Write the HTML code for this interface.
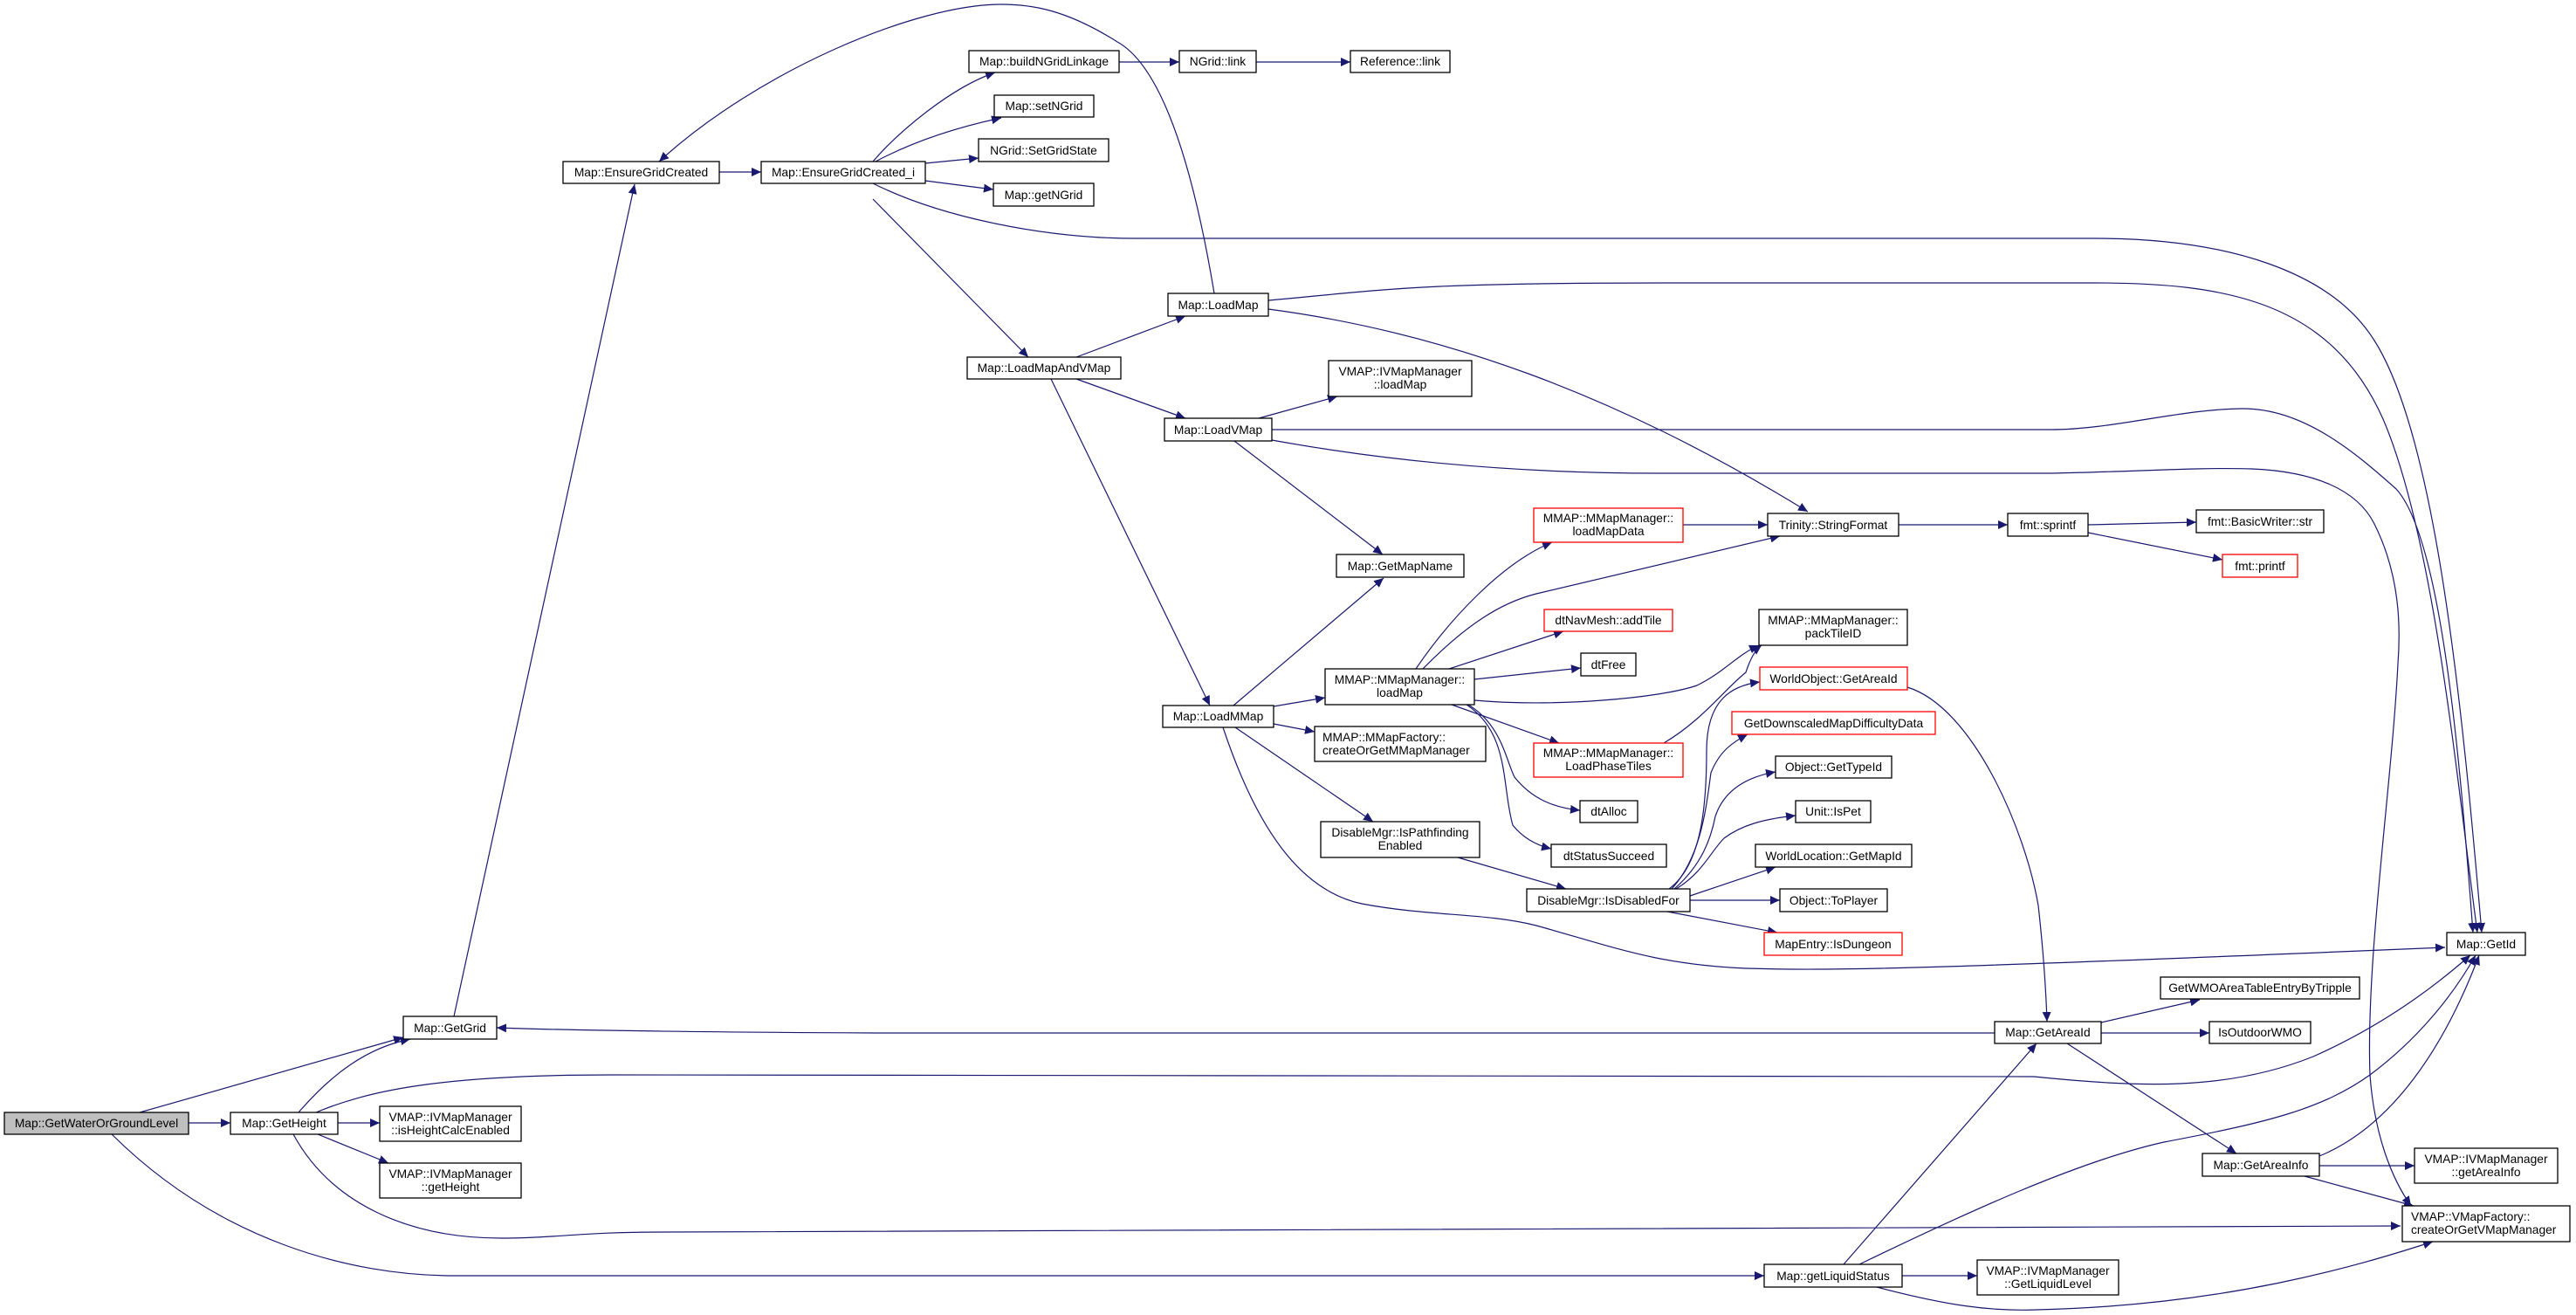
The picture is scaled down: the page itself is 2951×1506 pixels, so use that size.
<!DOCTYPE html>
<html><head><meta charset="utf-8"><style>
html,body{margin:0;padding:0;background:#fff;}
svg{display:block;}
text{font-family:"Liberation Sans",sans-serif;font-size:13.8px;fill:#000;}
.e{fill:none;stroke:#191970;stroke-width:1.2;marker-end:url(#a);}
.n{fill:#fff;stroke:#000;stroke-width:1.3;}
.r{fill:#fff;stroke:#ff0000;stroke-width:1.3;}
</style></head><body>
<svg width="2951" height="1506" viewBox="0 0 2951 1506" xmlns="http://www.w3.org/2000/svg">
<defs><marker id="a" markerUnits="userSpaceOnUse" markerWidth="12" markerHeight="10" refX="11" refY="5" orient="auto"><path d="M0,0 L11,5 L0,10 z" fill="#191970"/></marker></defs>
<g>
<path class="e" d="M160,1274 L462,1188"/>
<path class="e" d="M216,1286 L264,1286"/>
<path class="e" d="M128,1299 C250,1420 400,1461 520,1461 L2021,1461"/>
<path class="e" d="M342,1274 C380,1230 420,1200 470,1190"/>
<path class="e" d="M362,1274 C420,1250 500,1231 700,1231 L2330,1233 C2450,1245 2550,1250 2650,1210 C2740,1170 2800,1120 2830,1094"/>
<path class="e" d="M387,1286 L435,1286"/>
<path class="e" d="M364,1299 L445,1332"/>
<path class="e" d="M336,1299 C380,1380 470,1418 574,1418 C640,1418 660,1411 760,1411 L2750,1404"/>
<path class="e" d="M520,1164 L727,211"/>
<path class="e" d="M824,197 L872,197"/>
<path class="e" d="M1391,336 C1360,150 1320,70 1280,48 C1220,10 1180,5 1147,5 C1050,5 870,80 755,185"/>
<path class="e" d="M1000,185 C1030,150 1090,100 1140,83"/>
<path class="e" d="M1003,185 C1050,160 1100,145 1147,135"/>
<path class="e" d="M1060,187 L1121,181"/>
<path class="e" d="M1060,207 L1138,217"/>
<path class="e" d="M1000,210 C1080,250 1200,273 1300,273 L2400,273 C2550,273 2670,310 2720,390 C2790,500 2820,800 2843,1068"/>
<path class="e" d="M1000,228 L1178,409"/>
<path class="e" d="M1282,71 L1351,71"/>
<path class="e" d="M1439,71 L1547,71"/>
<path class="e" d="M1233,409 L1358,362"/>
<path class="e" d="M1233,434 L1358,479"/>
<path class="e" d="M1204,434 L1386,808"/>
<path class="e" d="M1453,344 C1520,338 1580,331 1650,328 C1750,324 1850,324 1957,324 L2400,324 C2550,324 2670,345 2730,480 C2790,620 2815,900 2838,1068"/>
<path class="e" d="M1453,354 C1650,380 1850,450 2071,586"/>
<path class="e" d="M1442,479 L1532,454"/>
<path class="e" d="M1457,492 L2350,492 C2420,492 2500,468 2570,468 C2640,468 2700,520 2745,560 C2800,620 2820,900 2833,1068"/>
<path class="e" d="M1457,504 C1600,530 1750,542 1900,542 L2350,542 C2450,540 2520,535 2580,537 C2650,540 2700,560 2720,600 C2750,660 2750,720 2747,760 C2740,900 2710,1100 2715,1231 C2720,1300 2740,1350 2762,1381"/>
<path class="e" d="M1414,505 L1584,635"/>
<path class="e" d="M1413,808 L1585,662"/>
<path class="e" d="M1459,809 L1518,799"/>
<path class="e" d="M1459,829 L1506,838"/>
<path class="e" d="M1415,833 L1573,941"/>
<path class="e" d="M1401,833 C1440,950 1490,1020 1560,1035 C1640,1050 1700,1045 1760,1060 C1850,1085 1900,1105 2000,1109 C2100,1112 2200,1110 2801,1085"/>
<path class="e" d="M1622,766 C1660,710 1720,645 1778,621"/>
<path class="e" d="M1630,766 C1680,715 1720,690 1760,680 L2039,614"/>
<path class="e" d="M1660,766 L1791,723"/>
<path class="e" d="M1689,778 L1811,765"/>
<path class="e" d="M1689,802 C1780,810 1900,800 1944,785 C1975,770 1990,750 2015,739"/>
<path class="e" d="M1663,807 L1786,851"/>
<path class="e" d="M1682,807 C1720,830 1725,870 1735,890 C1755,915 1780,925 1810,928"/>
<path class="e" d="M1680,807 C1730,840 1720,900 1733,945 C1745,960 1760,968 1777,972"/>
<path class="e" d="M1928,601 L2025,601"/>
<path class="e" d="M1906,851 C1950,825 1975,790 2000,770 C2005,755 2010,745 2018,739"/>
<path class="e" d="M2175,601 L2300,601"/>
<path class="e" d="M2392,601 L2516,598"/>
<path class="e" d="M2392,610 L2546,641"/>
<path class="e" d="M1670,982 L1794,1018"/>
<path class="e" d="M1912,1018 C1950,990 1955,920 1955,860 C1955,800 1985,785 2016,781"/>
<path class="e" d="M1915,1018 C1950,980 1955,920 1960,885 C1970,860 1985,850 2002,841"/>
<path class="e" d="M1918,1018 C1950,990 1960,960 1965,935 C1975,905 2000,890 2034,884"/>
<path class="e" d="M1920,1018 C1950,1000 1960,975 1975,960 C1995,945 2020,938 2057,934"/>
<path class="e" d="M1936,1026 L2034,993"/>
<path class="e" d="M1936,1031 L2039,1031"/>
<path class="e" d="M1910,1044 L2036,1068"/>
<path class="e" d="M2185,787 C2260,810 2320,950 2335,1037 C2342,1100 2344,1140 2345,1170"/>
<path class="e" d="M2285,1183 L1000,1183 C800,1182 650,1180 569,1177"/>
<path class="e" d="M2407,1171 L2520,1145"/>
<path class="e" d="M2407,1183 L2531,1183"/>
<path class="e" d="M2368,1195 L2562,1321"/>
<path class="e" d="M2657,1324 C2740,1290 2800,1200 2840,1094"/>
<path class="e" d="M2657,1335 L2766,1335"/>
<path class="e" d="M2640,1347 L2765,1381"/>
<path class="e" d="M2112,1448 L2333,1195"/>
<path class="e" d="M2130,1448 C2250,1390 2380,1330 2479,1308 C2600,1285 2660,1270 2715,1231 C2770,1190 2810,1140 2836,1094"/>
<path class="e" d="M2179,1461 L2265,1461"/>
<path class="e" d="M2150,1474 C2230,1495 2280,1502 2333,1500 C2550,1495 2700,1450 2787,1422"/>
</g>
<g text-anchor="middle">
<rect x="5" y="1274" width="211" height="25" fill="#bfbfbf" stroke="#000" stroke-width="1.3"/><text x="110.5" y="1291">Map::GetWaterOrGroundLevel</text>
<rect class="n" x="264" y="1274" width="123" height="25"/><text x="325.5" y="1291">Map::GetHeight</text>
<rect class="n" x="462" y="1164" width="107" height="26"/><text x="515.5" y="1182">Map::GetGrid</text>
<rect class="n" x="435" y="1267" width="162" height="40"/><text x="516" y="1284">VMAP::IVMapManager</text><text x="516" y="1299">::isHeightCalcEnabled</text>
<rect class="n" x="435" y="1332" width="162" height="40"/><text x="516" y="1349">VMAP::IVMapManager</text><text x="516" y="1364">::getHeight</text>
<rect class="n" x="645" y="185" width="179" height="25"/><text x="734.5" y="202">Map::EnsureGridCreated</text>
<rect class="n" x="872" y="185" width="188" height="25"/><text x="966" y="202">Map::EnsureGridCreated_i</text>
<rect class="n" x="1110" y="58" width="172" height="25"/><text x="1196" y="75">Map::buildNGridLinkage</text>
<rect class="n" x="1351" y="58" width="88" height="25"/><text x="1395" y="75">NGrid::link</text>
<rect class="n" x="1547" y="58" width="114" height="25"/><text x="1604" y="75">Reference::link</text>
<rect class="n" x="1139" y="109" width="114" height="25"/><text x="1196" y="126">Map::setNGrid</text>
<rect class="n" x="1121" y="159" width="149" height="26"/><text x="1195.5" y="177">NGrid::SetGridState</text>
<rect class="n" x="1138" y="210" width="115" height="26"/><text x="1195.5" y="228">Map::getNGrid</text>
<rect class="n" x="1338" y="336" width="115" height="26"/><text x="1395.5" y="354">Map::LoadMap</text>
<rect class="n" x="1108" y="409" width="176" height="25"/><text x="1196" y="426">Map::LoadMapAndVMap</text>
<rect class="n" x="1522" y="413" width="164" height="41"/><text x="1604" y="430">VMAP::IVMapManager</text><text x="1604" y="445">::loadMap</text>
<rect class="n" x="1334" y="479" width="123" height="26"/><text x="1395.5" y="497">Map::LoadVMap</text>
<rect class="n" x="1531" y="635" width="146" height="26"/><text x="1604" y="653">Map::GetMapName</text>
<rect class="r" x="1757" y="582" width="171" height="39"/><text x="1842.5" y="598">MMAP::MMapManager::</text><text x="1842.5" y="613">loadMapData</text>
<rect class="r" x="1769" y="698" width="147" height="25"/><text x="1842.5" y="715">dtNavMesh::addTile</text>
<rect class="n" x="1811" y="748" width="63" height="26"/><text x="1842.5" y="766">dtFree</text>
<rect class="n" x="1332" y="808" width="127" height="25"/><text x="1395.5" y="825">Map::LoadMMap</text>
<rect class="n" x="1518" y="766" width="171" height="41"/><text x="1603.5" y="783">MMAP::MMapManager::</text><text x="1603.5" y="798">loadMap</text>
<rect class="n" x="1506" y="832" width="196" height="40"/><text x="1515" y="849" text-anchor="start">MMAP::MMapFactory::</text><text x="1515" y="864" text-anchor="start">createOrGetMMapManager</text>
<rect class="n" x="1513" y="941" width="182" height="41"/><text x="1604" y="958">DisableMgr::IsPathfinding</text><text x="1604" y="973">Enabled</text>
<rect class="r" x="1757" y="851" width="171" height="39"/><text x="1842.5" y="867">MMAP::MMapManager::</text><text x="1842.5" y="882">LoadPhaseTiles</text>
<rect class="n" x="1810" y="917" width="66" height="25"/><text x="1843" y="934">dtAlloc</text>
<rect class="n" x="1777" y="967" width="132" height="26"/><text x="1843" y="985">dtStatusSucceed</text>
<rect class="n" x="1749" y="1018" width="187" height="26"/><text x="1842.5" y="1036">DisableMgr::IsDisabledFor</text>
<rect class="n" x="2025" y="588" width="150" height="26"/><text x="2100" y="606">Trinity::StringFormat</text>
<rect class="n" x="2300" y="588" width="92" height="26"/><text x="2346" y="606">fmt::sprintf</text>
<rect class="n" x="2516" y="584" width="146" height="26"/><text x="2589" y="602">fmt::BasicWriter::str</text>
<rect class="r" x="2546" y="635" width="86" height="26"/><text x="2589" y="653">fmt::printf</text>
<rect class="n" x="2015" y="698" width="170" height="41"/><text x="2100" y="715">MMAP::MMapManager::</text><text x="2100" y="730">packTileID</text>
<rect class="r" x="2016" y="764" width="169" height="26"/><text x="2100.5" y="782">WorldObject::GetAreaId</text>
<rect class="r" x="1984" y="815" width="233" height="26"/><text x="2100.5" y="833">GetDownscaledMapDifficultyData</text>
<rect class="n" x="2034" y="866" width="133" height="25"/><text x="2100.5" y="883">Object::GetTypeId</text>
<rect class="n" x="2057" y="917" width="86" height="25"/><text x="2100" y="934">Unit::IsPet</text>
<rect class="n" x="2011" y="967" width="179" height="26"/><text x="2100.5" y="985">WorldLocation::GetMapId</text>
<rect class="n" x="2039" y="1018" width="123" height="26"/><text x="2100.5" y="1036">Object::ToPlayer</text>
<rect class="r" x="2021" y="1068" width="158" height="26"/><text x="2100" y="1086">MapEntry::IsDungeon</text>
<rect class="n" x="2803" y="1068" width="90" height="26"/><text x="2848" y="1086">Map::GetId</text>
<rect class="n" x="2475" y="1119" width="228" height="25"/><text x="2589" y="1136">GetWMOAreaTableEntryByTripple</text>
<rect class="n" x="2285" y="1170" width="122" height="25"/><text x="2346" y="1187">Map::GetAreaId</text>
<rect class="n" x="2531" y="1170" width="116" height="25"/><text x="2589" y="1187">IsOutdoorWMO</text>
<rect class="n" x="2523" y="1321" width="134" height="26"/><text x="2590" y="1339">Map::GetAreaInfo</text>
<rect class="n" x="2766" y="1315" width="164" height="40"/><text x="2848" y="1332">VMAP::IVMapManager</text><text x="2848" y="1347">::getAreaInfo</text>
<rect class="n" x="2752" y="1381" width="192" height="41"/><text x="2762" y="1398" text-anchor="start">VMAP::VMapFactory::</text><text x="2762" y="1413" text-anchor="start">createOrGetVMapManager</text>
<rect class="n" x="2021" y="1448" width="158" height="26"/><text x="2100" y="1466">Map::getLiquidStatus</text>
<rect class="n" x="2265" y="1443" width="162" height="40"/><text x="2346" y="1460">VMAP::IVMapManager</text><text x="2346" y="1475">::GetLiquidLevel</text>
</g>
</svg>
</body></html>
